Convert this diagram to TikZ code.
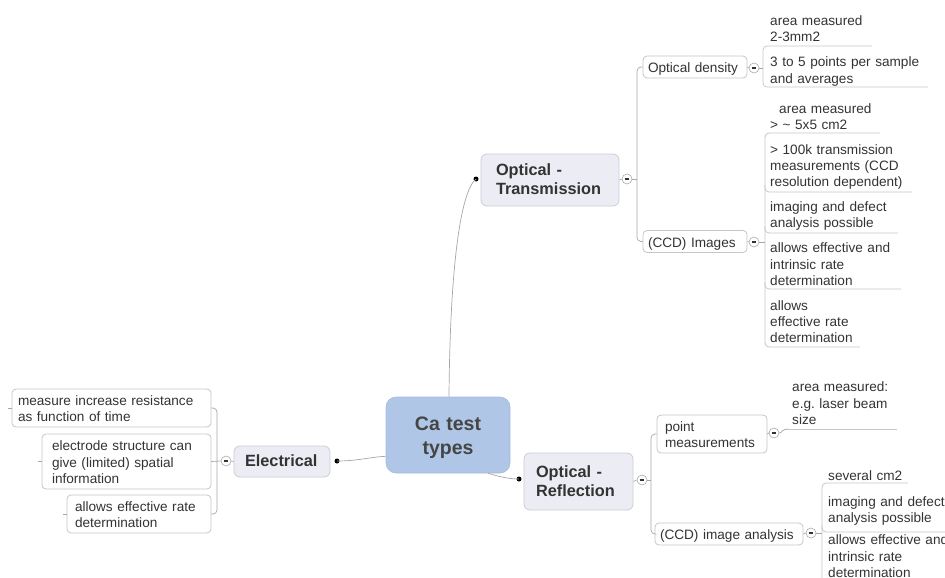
\documentclass[tikz,border=0pt]{standalone}
\usepackage{fontspec}
\setmainfont{Liberation Sans}
\usetikzlibrary{calc}
\definecolor{txt}{HTML}{333333}
\definecolor{roottxt}{HTML}{454545}
\definecolor{topicfill}{HTML}{ECECF4}
\definecolor{topicdraw}{HTML}{CDCDD6}
\definecolor{rootfill}{HTML}{AFC6E6}
\definecolor{rootdraw}{HTML}{A4BDE2}
\definecolor{boxdraw}{HTML}{C6C6C6}
\definecolor{conn}{HTML}{A6A6A6}
\definecolor{collc}{HTML}{AAAAAA}
\begin{document}
\begin{tikzpicture}[x=1pt,y=-1pt,
  every node/.style={text=txt},
  nf/.style={font=\fontsize{13.6}{16.3}\selectfont},
  struts/.style={execute at begin node={\rule{0pt}{\dimexpr\ht\strutbox+#1\relax}}, execute at end node=\strut},
  rootbox/.style={rounded corners=10pt, fill=rootfill, draw=rootdraw, line width=0.6pt,
    font=\fontsize{19.5}{24}\selectfont\bfseries, text=roottxt, align=center, inner ysep=0pt, struts=5pt},
  topicbox/.style={rounded corners=6pt, fill=topicfill, draw=topicdraw, line width=0.8pt,
    font=\fontsize{16.3}{19}\selectfont\bfseries, align=left, inner ysep=0pt, struts=2.5pt},
  subbox/.style={rounded corners=4pt, fill=white, draw=boxdraw, line width=0.8pt, nf,
    align=left, inner ysep=0pt, struts=4.5pt},
  leaf/.style={nf, align=left, text width=175pt, inner sep=0pt, anchor=west, struts=3.5pt},
  bracket/.style={draw=boxdraw, line width=0.8pt, rounded corners=4pt},
  link/.style={draw=conn, line width=0.7pt, rounded corners=4pt},
  dot/.style={circle, fill=black, inner sep=0pt, minimum size=5pt},
  coll/.style={circle, draw=collc, fill=white, inner sep=0pt, minimum size=10pt, line width=0.6pt,
    path picture={\draw[line width=1.1pt, draw=txt] ([xshift=-2.3pt]path picture bounding box.center) -- ([xshift=2.3pt]path picture bounding box.center);}}
]
\useasboundingbox (0,0) rectangle (945,578);
\clip (0,0) rectangle (945,578);

% ---------- root ----------
\node[rootbox, minimum width=124, minimum height=76, text width=110] (root) at (448,435) {Ca test\\types};

% ---------- main topics ----------
\node[topicbox, minimum width=138, minimum height=52, inner xsep=15, text width=108] (ot) at (550,180) {Optical -\\Transmission};
\node[topicbox, minimum width=109, minimum height=57, inner xsep=12, text width=85] (opr) at (578.5,481.5) {Optical -\\Reflection};
\node[topicbox, minimum width=96, minimum height=31, inner xsep=11, text width=74] (el) at (282,461.5) {Electrical};

\node[dot] (dot) at (476,179) {};
\node[dot] (dor) at (519,479) {};
\node[dot] (del) at (337,461) {};

\draw[link] ([xshift=1pt]root.north) .. controls (450,270) and (460,192) .. (dot.center);
\draw[link] ([xshift=-22pt]root.south east) .. controls (500,477) and (510,479) .. (dor.center);
\draw[link] (del.center) .. controls (358,461) and (370,457) .. ($(root.south west)+(0,-17)$);

% ---------- Optical - Transmission ----------
\node[coll] (cot) at (627,179) {};
\draw[link] (ot.east) -- (cot.west);
\node[subbox, minimum width=104, minimum height=22, inner xsep=5, text width=94] (od) at (695,67) {Optical density};
\node[subbox, minimum width=104, minimum height=22, inner xsep=5, text width=94] (ccd) at (695,241.5) {(CCD) Images};
\coordinate (otb) at (637,179);
\draw[link] (cot.east) -- (otb);
\draw[link] (od.west) -- (637,67) -- (637,241.5) -- (ccd.west);

\node[coll] (cod) at (754,68) {};
\node[coll] (cccd) at (754,242) {};
\draw[link] (od.east) -- (cod.west);
\draw[link] (ccd.east) -- (cccd.west);

\node[leaf] (l1) at (770,28.5) {area measured\\2-3mm2};
\node[leaf] (l2) at (770,70) {3 to 5 points per sample\\and averages};
\draw[bracket] (872,46) -- (763,46) -- (763,87) -- (928,87);
\draw[link] (cod.east) -- (763,68);

\node[leaf] (c1) at (770,116.5) {\hspace*{9pt}area measured\\> \textasciitilde{} 5x5 cm2};
\node[leaf] (c2) at (770,165.5) {> 100k transmission\\measurements (CCD\\resolution dependent)};
\node[leaf] (c3) at (770,214.5) {imaging and defect\\analysis possible};
\node[leaf] (c4) at (770,264) {allows effective and\\intrinsic rate\\determination};
\node[leaf] (c5) at (770,321.5) {allows\\effective rate\\determination};
\draw[bracket] (880,133) -- (765,133) -- (765,347) -- (860,347);
\draw[bracket] (765,185) |- (912,192);
\draw[bracket] (765,226) |- (898,233);
\draw[bracket] (765,282) |- (901,289);
\draw[link] (cccd.east) -- (765,242);

% ---------- Optical - Reflection ----------
\node[coll] (copr) at (642,480) {};
\draw[link] (opr.east) -- (copr.west);
\node[subbox, minimum width=110, minimum height=38, inner xsep=8, text width=94] (pm) at (712,434) {point\\measurements};
\node[subbox, minimum width=148, minimum height=22, inner xsep=5, text width=138] (cia) at (729,534) {(CCD) image analysis};
\draw[link] (copr.east) -- (651,480);
\draw[link] (pm.west) -- (651,434) -- (651,534) -- (cia.west);

\node[coll] (cpm) at (774,433) {};
\draw[link] (pm.east) -- (cpm.west);
\node[leaf] (p1) at (792,403) {area measured:\\e.g.\ laser beam\\size};
\draw[link] (cpm.east) .. controls (782,433) and (782,429) .. (788,429);
\draw[bracket] (787,429) -- (897,429);

\node[coll] (ccia) at (811,533) {};
\draw[link] (cia.east) -- (ccia.west);
\draw[link] (ccia.east) -- (822,533);
\node[leaf] (s1) at (828,475) {several cm2};
\node[leaf] (s2) at (828,509.5) {imaging and defect\\analysis possible};
\node[leaf] (s3) at (828,556) {allows effective and\\intrinsic rate\\determination};
\draw[bracket] (908,483) -- (822,483) -- (822,590);
\draw[bracket] (822,525) |- (960,532);

% ---------- Electrical ----------
\node[coll] (cel) at (226,461) {};
\draw[link] (el.west) -- (cel.east);
\node[subbox, minimum width=199, minimum height=38, inner xsep=6, text width=187] (e1) at (111.5,408) {measure increase resistance\\as function of time};
\node[subbox, minimum width=169, minimum height=55, inner xsep=10, text width=149] (e2) at (126.5,461.5) {electrode structure can\\give (limited) spatial\\information};
\node[subbox, minimum width=144, minimum height=38, inner xsep=8, text width=128] (e3) at (139,514) {allows effective rate\\determination};
\draw[link] (e1.east) -- (217,408) -- (217,514) -- (e3.east);
\draw[link] (e2.east) -- (cel.west);
\draw[link] (8,408) -- (e1.west);
\draw[link] (38,461.5) -- (e2.west);
\draw[link] (63,514) -- (e3.west);
\end{tikzpicture}
\end{document}
